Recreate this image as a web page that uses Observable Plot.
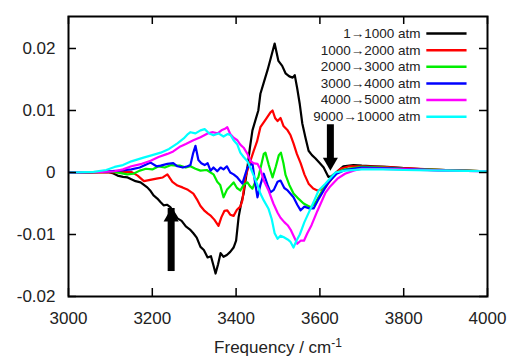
<!DOCTYPE html>
<html><head><meta charset="utf-8">
<script src="https://cdn.jsdelivr.net/npm/d3@7"></script>
<script src="https://cdn.jsdelivr.net/npm/@observablehq/plot@0.6"></script>
<style>body{margin:0;background:#fff;}</style>
</head><body><div id="chart"></div>
<script>
const seriesNames = ["1→1000 atm","1000→2000 atm","2000→3000 atm","3000→4000 atm","4000→5000 atm","9000→10000 atm"];
const seriesColors = ["#000000","#ff0000","#00ee00","#0000ff","#ff00ff","#00ffff"];
const xTicks = [3000,3200,3400,3600,3800,4000];
const yTicks = [-0.02,-0.01,0,0.01,0.02];

const blackF = [3000,3050,3095,3105,3117,3130,3141,3150,3160,3172,3180,3188,3196,3203,3212,3220,3227,3235,3243,3250,3260,3270,3280,3290,3298,3306,3315,3323,3332,3340,3346,3351,3357,3363,3370,3378,3386,3394,3400,3406,3412,3418,3427,3433,3439,3446,3453,3458,3466,3475,3483,3492,3501,3510,3518,3527,3535,3540,3546,3552,3558,3566,3573,3581,3589,3600,3609,3620,3628,3637,3656,3680,3700,3730,3760,3800,3850,3900,3950,4000];
const blackV = [0,0,0.0001,-0.0001,-0.0005,-0.0007,-0.0008,-0.0011,-0.0014,-0.0016,-0.0020,-0.0024,-0.0030,-0.0037,-0.0042,-0.0048,-0.0053,-0.0052,-0.0056,-0.0063,-0.0074,-0.0078,-0.0087,-0.0092,-0.0098,-0.0105,-0.0120,-0.0125,-0.0137,-0.0135,-0.0150,-0.0163,-0.0148,-0.0130,-0.0136,-0.0133,-0.0128,-0.0121,-0.0110,-0.0072,-0.0050,-0.0034,0.0008,0.0040,0.0068,0.0084,0.0100,0.0127,0.0145,0.0165,0.0185,0.0208,0.0180,0.0172,0.0160,0.0155,0.0153,0.0157,0.0135,0.0110,0.0079,0.0055,0.0035,0.0028,0.0023,0.0015,0.0008,-0.0007,-0.0006,-0.0001,0.0010,0.0012,0.0011,0.0010,0.0009,0.0007,0.0005,0.0004,0.0003,0.0002];

const redF = [3000,3100,3150,3165,3180,3195,3210,3225,3236,3248,3260,3272,3285,3298,3308,3315,3325,3332,3340,3348,3358,3365,3372,3379,3386,3394,3402,3410,3415,3422,3430,3442,3450,3458,3470,3482,3487,3493,3499,3506,3513,3523,3530,3537,3545,3554,3563,3573,3584,3594,3604,3613,3625,3637,3649,3670,3700,3750,3800,3900,4000];
const redV = [0,0,0.0001,-0.0005,-0.0014,-0.0012,-0.0010,-0.0008,-0.0003,-0.0015,-0.0021,-0.0024,-0.0028,-0.0034,-0.0045,-0.0054,-0.0062,-0.0066,-0.0070,-0.0076,-0.0086,-0.0072,-0.0062,-0.0061,-0.0068,-0.0070,-0.0060,-0.0055,-0.0045,-0.0008,0.0010,0.0035,0.0050,0.0073,0.0085,0.0097,0.0100,0.0088,0.0083,0.0088,0.0075,0.0068,0.0060,0.0047,0.0030,0.0015,-0.0003,-0.0018,-0.0026,-0.0029,-0.0027,-0.0024,-0.0013,-0.0002,0.0006,0.0010,0.0010,0.0009,0.0007,0.0004,0.0002];

const greenF = [3000,3080,3100,3125,3140,3155,3170,3185,3200,3215,3230,3245,3258,3267,3280,3291,3303,3315,3330,3346,3355,3362,3370,3378,3386,3394,3402,3410,3418,3427,3433,3439,3446,3453,3460,3466,3470,3478,3487,3495,3502,3507,3513,3518,3527,3537,3550,3561,3578,3590,3605,3620,3640,3660,3700,3750,3800,3900,4000];
const greenV = [0,0.0001,0.0002,-0.0001,-0.0003,-0.0002,0.0003,0.0006,0.0005,0.0010,0.0008,0.0012,0.0011,0.0011,0.0008,0.0010,0.0006,0.0003,0.0004,-0.0003,-0.0015,-0.0020,-0.0040,-0.0028,-0.0022,-0.0016,-0.0025,-0.0029,-0.0020,-0.0016,-0.0022,-0.0026,-0.0015,-0.0008,0.0012,0.0030,0.0032,0.0012,-0.0008,0.0010,0.0028,0.0032,0.0015,-0.0004,-0.0020,-0.0034,-0.0043,-0.0050,-0.0056,-0.0048,-0.0030,-0.0014,0.0000,0.0005,0.0009,0.0008,0.0006,0.0004,0.0002];

const blueF = [3000,3080,3120,3150,3170,3183,3196,3210,3220,3236,3250,3260,3273,3284,3291,3297,3303,3310,3317,3325,3332,3339,3346,3355,3363,3370,3378,3386,3394,3403,3415,3427,3439,3445,3451,3458,3466,3475,3482,3490,3499,3506,3515,3523,3537,3546,3554,3563,3575,3585,3595,3608,3620,3640,3660,3700,3750,3800,3900,4000];
const blueV = [0,0.0001,0.0003,0.0005,0.0008,0.0012,0.0016,0.0010,0.0011,0.0014,0.0015,0.0010,0.0008,0.0010,0.0012,0.0030,0.0043,0.0020,0.0015,0.0012,0.0015,0.0003,0.0008,0.0002,0.0008,0.0005,0.0010,0.0000,-0.0003,-0.0008,-0.0018,0.0008,0.0015,-0.0015,-0.0040,-0.0020,-0.0002,-0.0020,-0.0032,-0.0028,-0.0015,-0.0013,-0.0025,-0.0029,-0.0040,-0.0052,-0.0061,-0.0055,-0.0058,-0.0058,-0.0045,-0.0030,-0.0016,-0.0002,0.0004,0.0008,0.0007,0.0006,0.0003,0.0002];

const magentaF = [3000,3080,3110,3130,3150,3175,3196,3215,3236,3250,3267,3280,3298,3315,3332,3345,3356,3365,3372,3379,3386,3394,3403,3410,3418,3427,3434,3441,3451,3458,3466,3478,3489,3499,3506,3515,3523,3530,3537,3546,3554,3562,3570,3580,3594,3613,3625,3642,3660,3680,3700,3750,3800,3900,4000];
const magentaV = [0,0.0001,0.0002,0.0005,0.0010,0.0014,0.0019,0.0025,0.0030,0.0034,0.0042,0.0046,0.0052,0.0057,0.0063,0.0065,0.0063,0.0068,0.0070,0.0073,0.0062,0.0056,0.0052,0.0045,0.0040,0.0030,0.0019,0.0015,0.0014,0.0005,-0.0013,-0.0030,-0.0050,-0.0065,-0.0073,-0.0080,-0.0085,-0.0092,-0.0102,-0.0115,-0.0110,-0.0110,-0.0098,-0.0085,-0.0062,-0.0033,-0.0022,-0.0010,-0.0002,0.0003,0.0006,0.0006,0.0005,0.0003,0.0002];

const cyanF = [3000,3060,3090,3110,3130,3150,3179,3200,3220,3240,3260,3275,3285,3291,3303,3315,3325,3336,3346,3358,3370,3380,3387,3394,3403,3410,3418,3427,3434,3442,3451,3458,3466,3477,3485,3492,3499,3506,3513,3523,3530,3537,3544,3552,3563,3580,3597,3613,3637,3660,3700,3750,3800,3900,4000];
const cyanV = [0,0.0001,0.0004,0.0009,0.0012,0.0018,0.0024,0.0028,0.0032,0.0038,0.0047,0.0055,0.0062,0.0065,0.0063,0.0068,0.0070,0.0063,0.0060,0.0063,0.0058,0.0062,0.0060,0.0052,0.0045,0.0032,0.0025,0.0018,0.0008,-0.0005,-0.0020,-0.0034,-0.0045,-0.0058,-0.0075,-0.0098,-0.0107,-0.0102,-0.0104,-0.0108,-0.0112,-0.0121,-0.0110,-0.0100,-0.0080,-0.0055,-0.0029,-0.0018,0.0000,0.0003,0.0005,0.0005,0.0004,0.0003,0.0002];

// annotation arrows: frequency, tail value, tip value
const upArrowX = [3245], upArrowTail = [-0.0142], upArrowTip = [-0.0058];
const downArrowX = [3625], downArrowTail = [0.0077], downArrowTip = [0.0003];

const allF = [blackF, redF, greenF, blueF, magentaF, cyanF];
const allV = [blackV, redV, greenV, blueV, magentaV, cyanV];
const rows = [];
allF.forEach((fs, i) => fs.forEach((f, j) => rows.push({series: seriesNames[i], f, v: allV[i][j]})));

const upArrows = upArrowX.map((x, i) => ({x, y1: upArrowTail[i], y2: upArrowTip[i]}));
const downArrows = downArrowX.map((x, i) => ({x, y1: downArrowTail[i], y2: downArrowTip[i]}));

// legend layout (inside plot, top right)
const legTop = 0.0224, legStep = 0.00268;
const legend = seriesNames.map((name, i) => ({name, y: legTop - i * legStep}));

const font = "Liberation Sans, Arial, sans-serif";
const chart = Plot.plot({
  width: 516, height: 358,
  marginLeft: 68, marginRight: 29, marginTop: 16, marginBottom: 62,
  style: {fontFamily: font, fontSize: "17px", color: "#222", background: "#fff"},
  x: {domain: [3000, 4000]},
  y: {domain: [-0.02, 0.02516]},
  color: {domain: seriesNames, range: seriesColors},
  marks: [
    Plot.axisX({ticks: xTicks, tickSize: 0, tickPadding: 15, tickFormat: d => String(d), label: "Frequency / cm-1", labelAnchor: "center", labelOffset: 56, fontSize: 17}),
    Plot.axisY({ticks: yTicks, tickSize: 0, tickPadding: 13, tickFormat: d => String(d), label: null, fontSize: 17}),
    Plot.line(rows, {x: "f", y: "v", z: "series", stroke: "series", strokeWidth: 2.2, clip: true}),
    // arrows
    Plot.ruleX(upArrows, {x: "x", y1: "y1", y2: "y2", stroke: "black", strokeWidth: 7, insetTop: 11}),
    Plot.dot(upArrows, {x: "x", y: "y2", symbol: "triangle", r: 5.6, fill: "black", stroke: "none", dy: 8.6}),
    Plot.ruleX(downArrows, {x: "x", y1: "y1", y2: "y2", stroke: "black", strokeWidth: 7, insetBottom: 11}),
    Plot.dot(downArrows, {x: "x", y: "y2", symbol: "triangle", r: 5.6, fill: "black", stroke: "none", rotate: 180, dy: -8.6}),
    // legend
    Plot.text(legend, {x: 3840, y: "y", text: "name", textAnchor: "end", fontSize: 13.5, fill: "#222"}),
    Plot.link(legend, {x1: 3854, x2: 3950, y1: "y", y2: "y", stroke: "name", strokeWidth: 2.5}),
    // inward ticks on all four sides
    Plot.ruleX(xTicks, {stroke: "black", strokeWidth: 1.5, insetTop: 272}),
    Plot.ruleX(xTicks, {stroke: "black", strokeWidth: 1.5, insetBottom: 272}),
    Plot.ruleY(yTicks, {stroke: "black", strokeWidth: 1.5, insetRight: 411}),
    Plot.ruleY(yTicks, {stroke: "black", strokeWidth: 1.5, insetLeft: 411}),
    Plot.frame({stroke: "black", strokeWidth: 2})
  ]
});
document.getElementById("chart").appendChild(chart);
// superscript on the x-axis label
const lab = chart.querySelector('g[aria-label="x-axis label"] text');
if (lab) {
  lab.textContent = "Frequency / cm";
  const sup = document.createElementNS("http://www.w3.org/2000/svg", "tspan");
  sup.setAttribute("dy", "-0.45em");
  sup.setAttribute("font-size", "12");
  sup.textContent = "-1";
  lab.appendChild(sup);
}
</script>
</body></html>
